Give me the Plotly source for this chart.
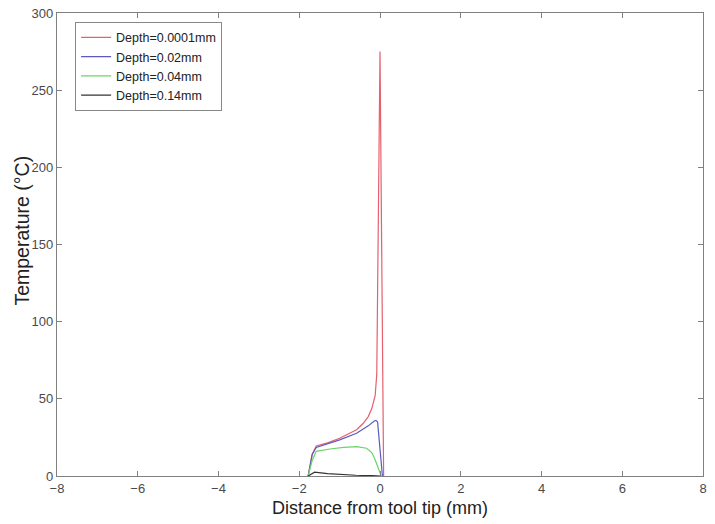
import plotly.graph_objects as go

# Depth = 0.0001 mm
x_d0001 = [-1.78, -1.68, -1.58, -1.3, -1.0, -0.8, -0.58, -0.42, -0.29, -0.2, -0.12, -0.08, 0.0, 0.09]
t_d0001 = [0, 14, 19.5, 21.5, 24.5, 27, 30, 34, 38.5, 44, 52, 66, 275, 0]

# Depth = 0.02 mm
x_d002 = [-1.78, -1.68, -1.58, -1.3, -1.0, -0.58, -0.29, -0.15, -0.1, -0.06, 0.06]
t_d002 = [0, 14, 18.5, 21, 23.4, 27.7, 32.5, 35.5, 36, 35, 0]

# Depth = 0.04 mm
x_d004 = [-1.78, -1.68, -1.58, -1.24, -0.9, -0.58, -0.33, -0.2, -0.12, -0.05, 0.0, 0.03]
t_d004 = [0, 10, 16, 17.5, 18.5, 19, 18, 15, 10.5, 5, 2, 0]

# Depth = 0.14 mm
x_d014 = [-1.78, -1.62, -1.3, -1.0, -0.6, -0.2, 0.02]
t_d014 = [0, 2.5, 1.6, 1.0, 0.5, 0.2, 0]

x_ticks = [-8, -6, -4, -2, 0, 2, 4, 6, 8]
y_ticks = [0, 50, 100, 150, 200, 250, 300]

series = [
    ("Depth=0.0001mm", x_d0001, t_d0001, "#e6606e"),
    ("Depth=0.02mm", x_d002, t_d002, "#5a5ac0"),
    ("Depth=0.04mm", x_d004, t_d004, "#6ad46a"),
    ("Depth=0.14mm", x_d014, t_d014, "#333333"),
]

fig = go.Figure()
for name, xs, ys, col in series:
    fig.add_trace(go.Scatter(x=xs, y=ys, mode="lines", name=name,
                             line=dict(color=col, width=1.2)))

axis_common = dict(
    showgrid=False, zeroline=False, showline=True, mirror="ticks",
    linecolor="#808080", linewidth=1.3, ticks="inside", ticklen=5,
    tickcolor="#808080", tickwidth=1, automargin=False,
    tickfont=dict(family="Liberation Sans, Arial", size=13, color="#4a4a4a"),
)

fig.update_layout(
    width=715, height=524,
    margin=dict(l=57, r=12, t=13, b=48),
    paper_bgcolor="white", plot_bgcolor="white",
    font=dict(family="Liberation Sans, Arial", color="#222222"),
    xaxis=dict(range=[-8, 8], tickvals=x_ticks,
               title=dict(text="Distance from tool tip (mm)", font=dict(size=18, color="#222222"), standoff=6),
               **axis_common),
    yaxis=dict(range=[0, 300], tickvals=y_ticks, **axis_common),
    legend=dict(x=0.028, y=0.981, xanchor="left", yanchor="top",
                bgcolor="white", bordercolor="#888888", borderwidth=1,
                font=dict(family="Liberation Sans, Arial", size=12.5, color="#222222"),
                tracegroupgap=0, itemwidth=30),
    showlegend=True,
)

fig.add_annotation(text="Temperature (°C)", xref="paper", yref="paper",
                   x=-0.0542, y=0.53, xanchor="center", yanchor="middle",
                   textangle=-90, showarrow=False,
                   font=dict(family="Liberation Sans, Arial", size=19.5, color="#222222"))

fig.write_html("out.html", config={"displayModeBar": False},
               post_script="document.body.style.margin='0px';document.body.style.overflow='hidden';")
